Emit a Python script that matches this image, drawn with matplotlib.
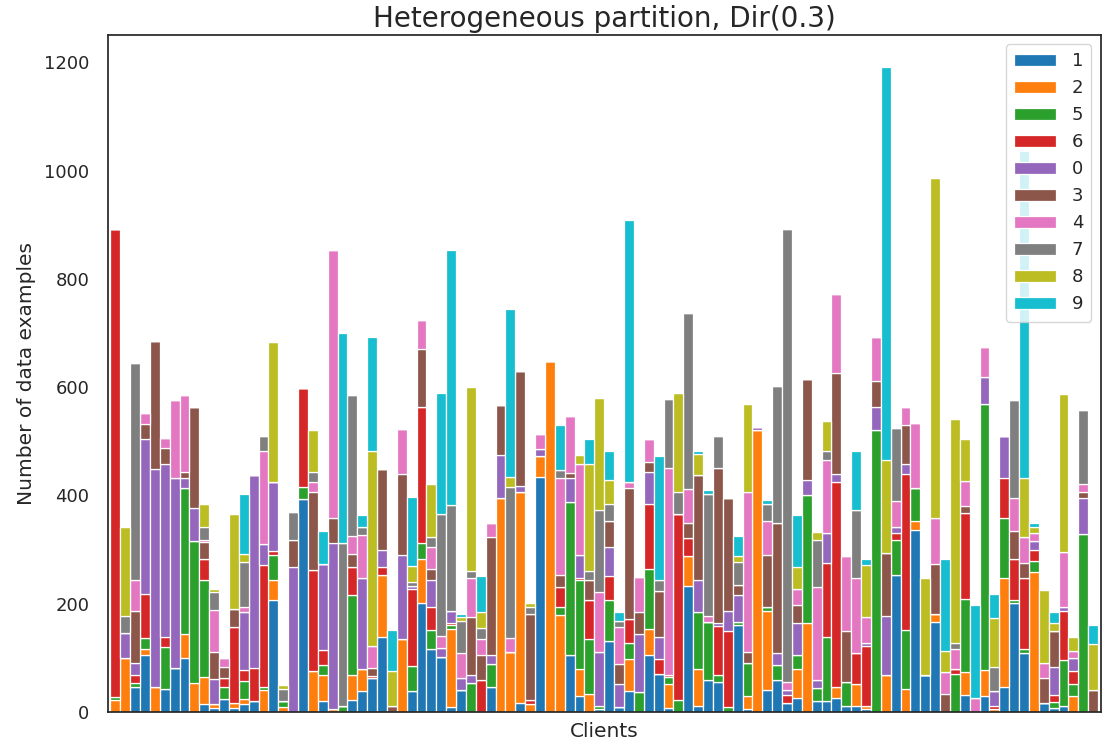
import matplotlib
matplotlib.use("Agg")
import matplotlib.pyplot as plt
import numpy as np
import seaborn as sns

sns.set_style("white")
plt.rcParams['font.family'] = ['DejaVu Sans']

class_labels = ["1", "2", "5", "6", "0", "3", "4", "7", "8", "9"]
class_colors = ["#1f77b4", "#ff7f0e", "#2ca02c", "#d62728", "#9467bd",
                "#8c564b", "#e377c2", "#7f7f7f", "#bcbd22", "#17becf"]

c1 = [0,0,47,105,0,42,82,100,0,14, 8,24,8,14,20,0,207,0,0,394, 0,20,0,0,22,38,63,138,0,0,
      38,202,116,102,10,41,0,0,47,0, 0,16,0,434,0,0,105,29,0,6, 132,10,38,0,105,71,8,0,233,11,
      59,55,0,161,6,0,41,59,16,26, 0,20,20,26,11,12,6,0,0,253, 0,336,69,167,0,0,32,0,29,0,
      47,202,109,0,16,8,12,0,0,0]
c2 = [22,100,0,11,47,0,0,45,53,51, 6,0,8,10,0,41,36,10,0,0, 75,49,6,0,47,41,0,115,0,135,
      0,81,0,0,143,0,0,0,0,395, 110,390,14,39,649,180,0,50,34,0, 0,0,60,0,49,0,44,0,56,68,
      0,0,0,0,24,520,146,0,0,53, 165,0,0,21,0,39,5,0,69,0, 42,17,0,14,0,0,41,0,48,6,
      200,0,0,259,0,0,0,29,0,0]
c5 = [6,0,6,20,0,78,0,269,263,178, 0,23,0,33,0,6,47,10,0,22, 0,18,0,12,147,0,0,0,0,0,
      47,29,35,0,8,0,53,0,42,0, 0,0,0,0,0,14,283,165,101,5, 75,0,30,37,111,0,13,22,0,105,
      108,14,10,6,61,0,7,28,0,26, 235,25,118,0,44,0,0,520,0,65, 109,61,0,0,0,71,135,0,492,0,
      112,5,7,20,0,10,84,22,328,0]
c6 = [864,0,16,82,0,18,0,0,0,40, 0,16,141,21,62,224,7,0,0,182, 188,27,0,0,51,0,4,14,0,0,
      143,251,43,0,4,0,0,59,0,0, 0,0,8,0,0,36,0,4,72,0, 44,0,43,0,120,26,4,343,33,0,
      0,90,139,0,0,0,0,0,16,0, 0,0,137,378,0,58,111,0,0,12, 288,0,0,0,0,8,159,0,0,5,
      73,76,131,21,0,14,91,24,0,0]
c0 = [0,46,21,286,402,321,351,19,60,0, 47,0,0,106,355,39,128,0,268,0, 0,160,306,0,0,168,0,33,0,155,
      5,0,49,16,22,22,16,0,17,80, 0,12,0,13,0,0,44,42,0,99, 54,41,0,108,59,41,0,0,0,59,
      0,6,38,49,0,7,0,22,9,60, 29,14,55,14,0,0,6,43,108,11, 20,0,0,0,0,0,0,0,49,27,
      78,0,0,16,0,51,7,25,67,0]
c3 = [0,0,97,28,236,29,0,10,187,31, 49,20,34,0,0,0,0,0,49,0, 143,0,47,0,25,0,15,148,11,150,
      0,108,22,0,0,0,106,47,218,92, 0,212,159,0,0,23,9,0,37,0, 48,38,243,39,17,86,0,0,27,194,
      0,286,208,18,19,0,96,240,0,33, 187,0,0,187,94,0,0,49,117,0, 72,0,0,93,34,0,13,0,0,0,
      0,52,28,0,47,66,0,0,11,40]
c4 = [0,0,56,21,0,19,143,143,0,4, 79,16,0,10,0,173,0,0,0,0, 19,0,494,0,34,80,40,0,0,83,
      0,53,39,22,0,46,72,29,25,0, 27,0,0,28,0,179,105,169,0,112, 0,68,10,65,43,0,382,0,63,0,
      10,0,0,0,296,0,63,0,14,30, 0,171,135,147,140,138,47,80,0,49, 32,120,0,85,39,37,46,26,57,0,
      0,60,49,15,27,0,102,12,15,0]
c7 = [0,32,402,0,0,0,0,0,0,23, 33,0,0,84,0,27,0,22,52,0, 18,0,0,300,260,15,0,0,0,0,
      7,0,19,225,196,60,14,20,0,0, 278,0,13,0,0,15,0,0,17,151, 32,12,0,0,0,19,128,41,325,0,
      225,59,0,43,0,0,32,253,837,0, 0,88,18,0,0,126,0,0,0,134, 0,0,0,0,0,12,0,0,0,45,
      0,182,0,0,0,0,0,0,136,0]
c8 = [0,164,0,0,0,0,0,0,0,44, 6,0,174,14,0,0,259,7,0,0, 77,0,0,0,0,0,360,0,64,0,
      30,0,99,0,0,6,339,29,0,0, 20,0,8,0,0,0,0,15,198,207, 44,0,0,0,0,0,0,184,0,40,
      0,0,0,12,163,0,0,0,0,39, 0,14,54,0,0,0,96,0,171,0, 0,0,178,627,39,413,78,0,0,90,
      0,0,108,10,135,16,291,26,0,86]
c9 = [0,0,0,0,0,0,0,0,0,0, 0,0,0,110,0,0,0,0,0,0, 0,61,0,388,0,21,210,0,76,0,
      128,0,0,225,470,6,0,67,0,0, 310,0,0,0,0,83,0,0,45,0, 54,15,484,0,0,230,0,0,0,6,
      8,0,0,37,0,0,6,0,0,96, 0,0,0,0,0,110,12,0,726,0, 0,0,0,0,171,0,0,172,0,45,
      0,0,605,8,0,19,0,0,0,35]

series = [c1, c2, c5, c6, c0, c3, c4, c7, c8, c9]
for s in series:
    assert len(s) == 100, len(s)

fig = plt.figure(figsize=(11.02, 7.44), dpi=100)
ax = fig.add_axes([108/1102, 32/744, 992.5/1102, 677/744])

x = np.arange(len(c1))
bottom = np.zeros(len(c1))
for vals, lab, col in zip(series, class_labels, class_colors):
    v = np.array(vals, dtype=float)
    ax.bar(x, v, width=1.0, bottom=bottom, color=col, edgecolor="white",
           linewidth=0.9, label=lab)
    bottom += v

ax.set_xlim(-0.75, len(c1) - 0.25)
ax.set_ylim(0, bottom.max() * 1.05)
ax.set_xticks([])
ax.set_yticks(np.arange(0, 1201, 200))
ax.tick_params(axis="y", labelsize=13, pad=13.5, length=0, colors="#262626")

for sp in ax.spines.values():
    sp.set_color("#262626")
    sp.set_linewidth(1.25)

ax.set_title("Heterogeneous partition, Dir(0.3)", fontsize=20, color="#262626", pad=6)
ax.set_ylabel("Number of data examples", fontsize=14.5, color="#262626", labelpad=6)
ax.set_xlabel("Clients", fontsize=14.5, color="#262626", labelpad=7)

leg = ax.legend(loc="upper right", fontsize=13, handlelength=2.3, handleheight=0.7,
                labelspacing=0.5, handletextpad=0.9, borderpad=0.45,
                frameon=True, framealpha=0.8, edgecolor="0.8")
for t in leg.get_texts():
    t.set_color("#262626")

fig.savefig("out.png", dpi=100)
